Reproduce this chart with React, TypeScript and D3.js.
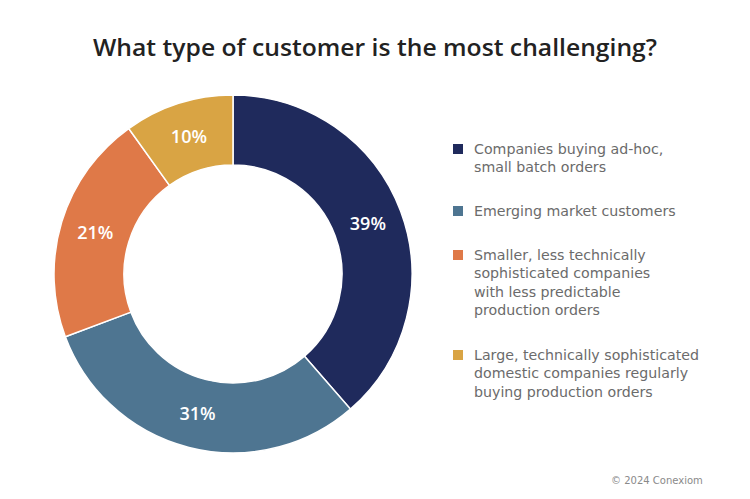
import React from "react";
import * as d3 from "d3";

const categories = [
  "Companies buying ad-hoc, small batch orders",
  "Emerging market customers",
  "Smaller, less technically sophisticated companies with less predictable production orders",
  "Large, technically sophisticated domestic companies regularly buying production orders",
];
const legendLines = [
  ["Companies buying ad-hoc,", "small batch orders"],
  ["Emerging market customers"],
  ["Smaller, less technically", "sophisticated companies", "with less predictable", "production orders"],
  ["Large, technically sophisticated", "domestic companies regularly", "buying production orders"],
];
const values = [39, 31, 21, 10];
const colors = ["#1f2a5c", "#4e7591", "#df7948", "#d9a444"];
const title = "What type of customer is the most challenging?";
const credit = "© 2024 Conexiom";

const W = 750;
const H = 499;
const FONT = "'DejaVu Sans', 'Open Sans', sans-serif";
const FONT2 = "'Open Sans', 'DejaVu Sans', sans-serif";

export default function App() {
  const cx = 233;
  const cy = 274;
  const outerR = 179;
  const innerR = 109;
  const pie = d3.pie<number>().value((d) => d).sort(null);
  const arcs = pie(values);
  const arc = d3.arc<d3.PieArcDatum<number>>().innerRadius(innerR).outerRadius(outerR);

  const legendStarts = [149, 211, 255, 355];
  const lineH = 18.5;

  return (
    <svg width={W} height={H} style={{ position: "absolute", left: 0, top: 0, background: "#fff" }}>
      <text
        x={375}
        y={56}
        textAnchor="middle"
        fontFamily={FONT2}
        fontWeight={600}
        fontSize={23}
        fill="#222"
        textLength={564}
        lengthAdjust="spacingAndGlyphs"
      >
        {title}
      </text>
      <g transform={`translate(${cx},${cy})`}>
        {arcs.map((a, i) => (
          <path key={categories[i]} d={arc(a) || ""} fill={colors[i]} stroke="#fff" strokeWidth={1.5} />
        ))}
        {arcs.map((a, i) => {
          const [x, y] = arc.centroid(a);
          return (
            <text
              key={"l" + i}
              x={x}
              y={y}
              dy="0.36em"
              textAnchor="middle"
              fontFamily={FONT2}
              fontWeight={600}
              fontSize={18}
              fill="#fff"
            >
              {values[i]}%
            </text>
          );
        })}
      </g>
      {legendLines.map((lines, i) => (
        <g key={"lg" + i}>
          <rect x={453} y={legendStarts[i] - 5} width={10} height={10} fill={colors[i]} />
          {lines.map((ln, j) => (
            <text
              key={j}
              x={474}
              y={legendStarts[i] + j * lineH}
              dy="0.35em"
              fontFamily={FONT}
              fontSize={14.2}
              fill="#6b6b6b"
            >
              {ln}
            </text>
          ))}
        </g>
      ))}
      <text x={611} y={480} dy="0.35em" fontFamily={FONT} fontSize={10} fill="#8a8a8a">
        {credit}
      </text>
    </svg>
  );
}
